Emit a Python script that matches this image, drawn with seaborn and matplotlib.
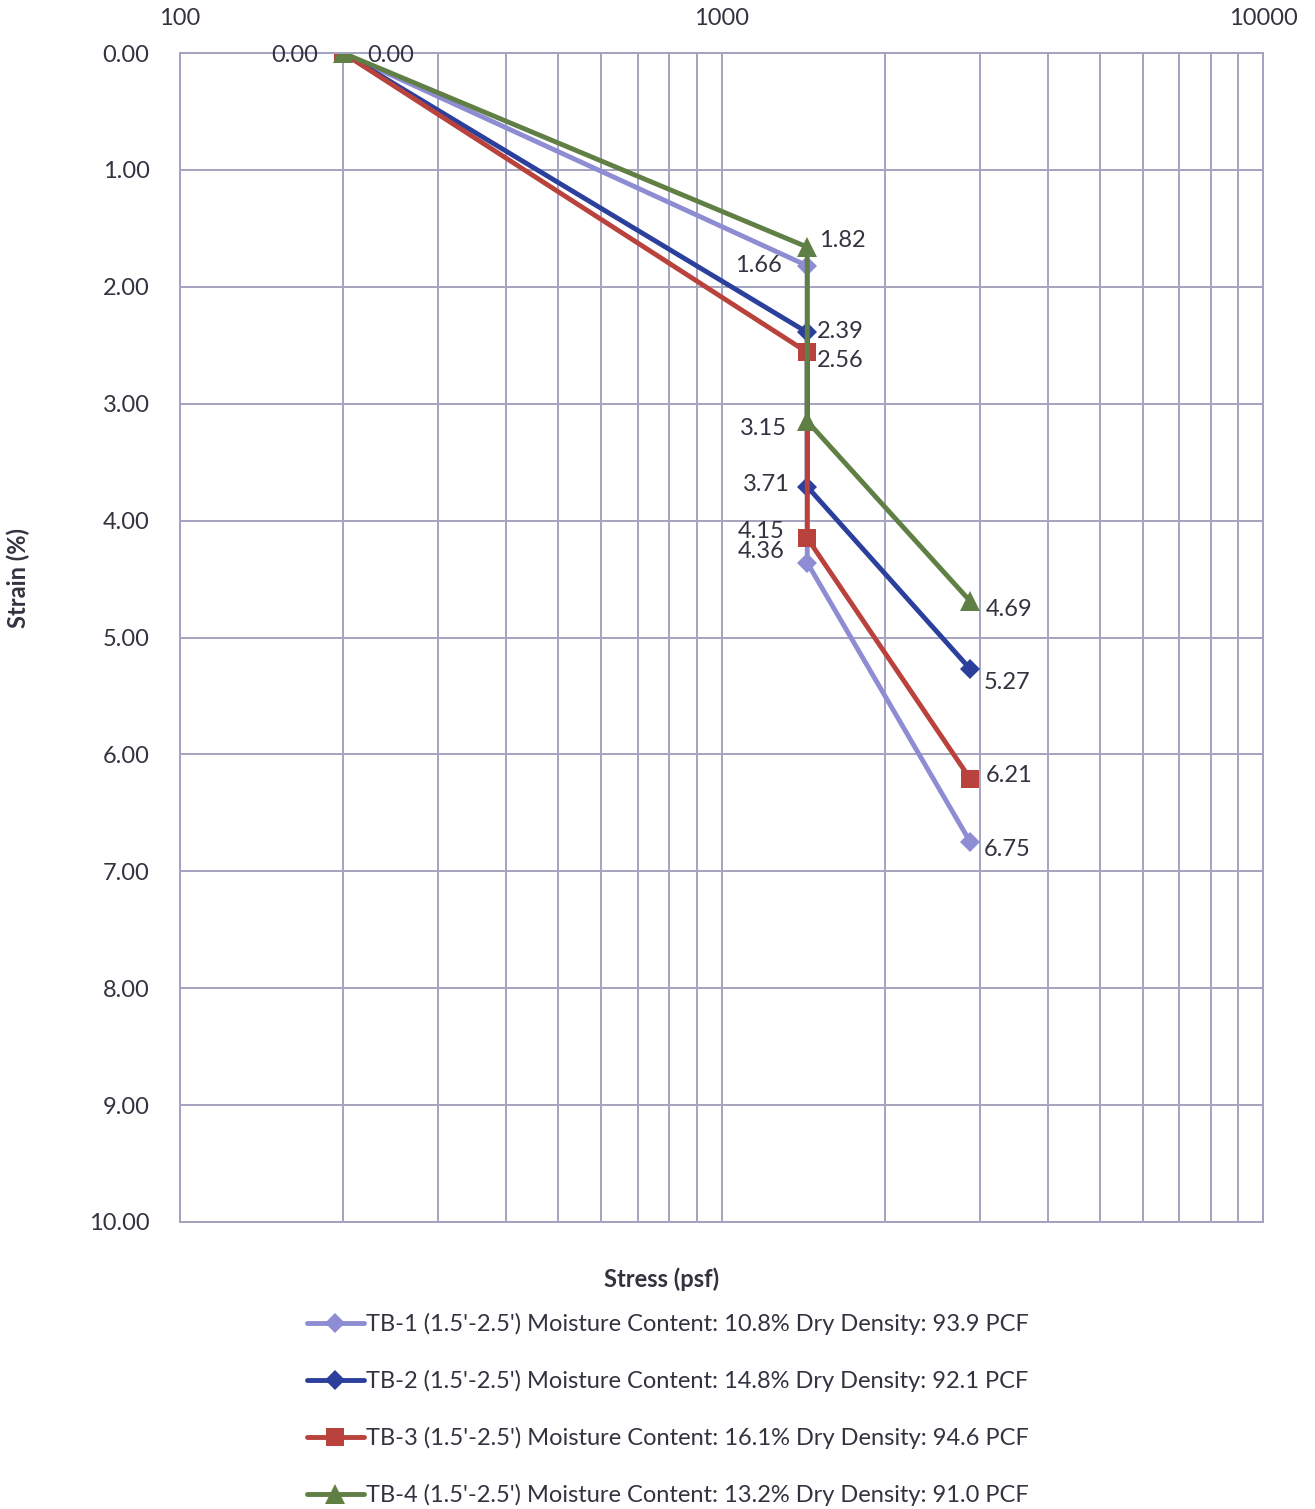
import numpy as np
import pandas as pd
import matplotlib
matplotlib.use("Agg")
import matplotlib.pyplot as plt
import seaborn as sns
from matplotlib.ticker import LogLocator, FixedLocator, FuncFormatter, NullFormatter

# Load steps (psf) and strain readings (%) for each sample
stress_psf = [200, 1440, 1440, 2880]
strain_tb1 = [0.00, 1.82, 4.36, 6.75]
strain_tb2 = [0.00, 2.39, 3.71, 5.27]
strain_tb3 = [0.00, 2.56, 4.15, 6.21]
strain_tb4 = [0.00, 1.66, 3.15, 4.69]

series_names = [
    "TB-1 (1.5'-2.5') Moisture Content: 10.8% Dry Density: 93.9 PCF",
    "TB-2 (1.5'-2.5') Moisture Content: 14.8% Dry Density: 92.1 PCF",
    "TB-3 (1.5'-2.5') Moisture Content: 16.1% Dry Density: 94.6 PCF",
    "TB-4 (1.5'-2.5') Moisture Content: 13.2% Dry Density: 91.0 PCF",
]
series_strain = [strain_tb1, strain_tb2, strain_tb3, strain_tb4]
colors = ["#8e8cd2", "#2b3f9c", "#b9423c", "#5f7f45"]
markers = ["D", "D", "s", "^"]
marker_sizes = [10, 10, 13, 14]

x_ticks = [100, 1000, 10000]
y_ticks = np.arange(0, 11, 1)

rows = []
for name, vals in zip(series_names, series_strain):
    for i, (s, e) in enumerate(zip(stress_psf, vals)):
        rows.append({"Sample": name, "order": i, "Stress (psf)": s, "Strain (%)": e})
df = pd.DataFrame(rows)

sns.set_theme(style="white")
plt.rcParams["font.family"] = ["Lato", "DejaVu Sans"]
grid_col = "#a3a3bf"
text_col = "#333340"
fs = 17

fig = plt.figure(figsize=(13.15, 15.09), dpi=100)
ax = fig.add_axes([180 / 1315, 1 - 1222 / 1509, (1263 - 180) / 1315, (1222 - 53) / 1509])

palette = dict(zip(series_names, colors))
marker_map = dict(zip(series_names, markers))
sns.lineplot(data=df, x="Stress (psf)", y="Strain (%)", hue="Sample", style="Sample",
             palette=palette, markers=marker_map, dashes=False, sort=False,
             estimator=None, linewidth=3.5, markeredgewidth=0, ax=ax, legend=False)
for line, ms in zip(ax.lines, marker_sizes):
    line.set_markersize(ms)

ax.set_xscale("log")
ax.set_xlim(100, 10000)
ax.set_ylim(10, 0)
ax.xaxis.set_major_locator(FixedLocator(x_ticks))
ax.xaxis.set_minor_locator(LogLocator(base=10, subs=np.arange(2, 10)))
ax.xaxis.set_minor_formatter(NullFormatter())
ax.xaxis.set_major_formatter(FuncFormatter(lambda v, p: f"{int(v)}"))
ax.yaxis.set_major_locator(FixedLocator(y_ticks))
ax.yaxis.set_major_formatter(FuncFormatter(lambda v, p: f"{v:.2f}"))
ax.xaxis.tick_top()
ax.tick_params(axis="both", which="both", length=0, labelsize=fs, colors=text_col, pad=17)
ax.tick_params(axis="y", pad=22)
ax.grid(True, which="major", color=grid_col, linewidth=1.4)
ax.grid(True, which="minor", axis="x", color=grid_col, linewidth=1.4)
ax.set_axisbelow(True)
for sp in ax.spines.values():
    sp.set_color(grid_col)
    sp.set_linewidth(1.4)

ax.set_xlabel("")
ax.set_ylabel("")
fig.text(662 / 1315, 1 - 1279 / 1509, "Stress (psf)", ha="center", va="center",
         fontsize=fs, fontweight="bold", color=text_col)
fig.text(18 / 1315, 1 - 578 / 1509, "Strain (%)", ha="center", va="center",
         rotation=90, fontsize=fs, fontweight="bold", color=text_col)

# Value labels: (series index, point index, dx px, dy px, ha)
label_spec = [
    (0, 0, -25, -2, "right"),
    (3, 0, 24, -2, "left"),
    (0, 1, 12, 25, "left"),
    (3, 1, -25, -18, "right"),
    (1, 1, 10, 1, "left"),
    (2, 1, 10, -8, "left"),
    (3, 2, -20, -7, "right"),
    (1, 2, -17, 2, "right"),
    (2, 2, -23, 7, "right"),
    (0, 2, -23, 11, "right"),
    (3, 3, 15, -8, "left"),
    (1, 3, 13, -13, "left"),
    (2, 3, 15, 3, "left"),
    (0, 3, 13, -7, "left"),
]
for si, pi, dx, dy, ha in label_spec:
    val = series_strain[si][pi]
    ax.annotate(f"{val:.2f}", xy=(stress_psf[pi], val), xytext=(dx, dy),
                textcoords="offset pixels", ha=ha, va="center",
                fontsize=fs, color=text_col)

handles = [plt.Line2D([0], [0], color=c, marker=m, markersize=ms, linewidth=3.5,
                      markeredgewidth=0)
           for c, m, ms in zip(colors, markers, marker_sizes)]
fig.legend(handles, series_names, loc="upper left",
           bbox_to_anchor=(307 / 1315, 1 - 1313 / 1509), frameon=False,
           fontsize=fs, labelcolor=text_col, handlelength=2.4, handletextpad=0.1,
           labelspacing=1.48, borderaxespad=0, borderpad=0)

fig.savefig("out.png", dpi=100, facecolor="white")
